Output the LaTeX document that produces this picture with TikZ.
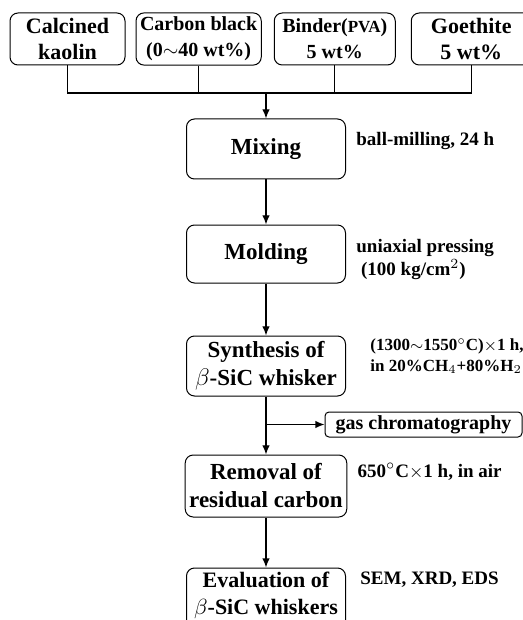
\documentclass[tikz,border=0pt]{standalone}
\usepackage{fontspec}
\setmainfont{Liberation Serif}
\usepackage{tikz}
\usetikzlibrary{arrows.meta,positioning}

\begin{document}
\begin{tikzpicture}[
  x=0.5pt, y=-0.5pt,
  node distance=22pt,
  stepbox/.style={draw, rounded corners=4pt, align=center, minimum width=79.5pt, minimum height=30pt, inner sep=2pt, line width=0.5pt, font=\fontsize{11.5}{14}\selectfont\bfseries},
  inbox/.style={stepbox, minimum height=26pt, font=\fontsize{11}{13}\selectfont\bfseries},
  note/.style={align=left, inner sep=0pt, font=\fontsize{9.5}{11.5}\selectfont\bfseries},
  arrow/.style={-{Latex[length=1.6mm, width=1.3mm]}, line width=0.6pt}
]
\useasboundingbox (0,0) rectangle (523,620);
\clip (0,0) rectangle (523,620);

% raw materials
\node[inbox, minimum width=57.5pt] (kaolin) at (67.5,39) {Calcined\\kaolin};
\node[inbox, minimum width=62.5pt, right=5pt of kaolin, font=\fontsize{10}{13}\selectfont\bfseries] (carbon) {Carbon black\\(0$\sim$40 wt\%)};
\node[inbox, minimum width=60.5pt, right=6pt of carbon, font=\fontsize{10}{13}\selectfont\bfseries] (binder) {Binder({\fontsize{8.5}{10}\selectfont PVA})\\5 wt\%};
\node[inbox, minimum width=60pt, right=7.5pt of binder] (goethite) {Goethite\\5 wt\%};

% process steps
\node[stepbox] (mixing) at (266,149) {Mixing};
\node[stepbox, below=22.5pt of mixing, minimum height=29pt] (molding) {Molding};
\node[stepbox, below=26pt of molding] (synthesis) {Synthesis of\\$\beta$-SiC whisker};
\node[stepbox, below=29pt of synthesis, minimum height=31pt] (removal) {Removal of\\residual carbon};
\node[stepbox, below=25pt of removal, font=\fontsize{11}{13.5}\selectfont\bfseries] (evaluation) {Evaluation of\\$\beta$-SiC whiskers\\\mbox{}\\\mbox{}};
\node[draw, rounded corners=2pt, line width=0.5pt, minimum width=98.5pt, minimum height=12.5pt, inner sep=1pt, font=\fontsize{10}{12}\selectfont\bfseries] (gc) at (423.5,424.5) {gas chromatography};

% conditions
\node[note, anchor=west, right=5pt of mixing, yshift=4pt] (millnote) {ball-milling, 24 h};
\node[note, anchor=west, right=5pt of molding, yshift=-3pt] (pressnote) {uniaxial pressing\\\ (100 kg/cm$^2$)};
\node[note, anchor=west, right=12pt of synthesis, yshift=5pt, font=\fontsize{8.5}{10.5}\selectfont\bfseries] (synthnote) {(1300$\sim$1550${}^\circ$C)$\times$1 h,\\in 20\%CH$_4$+80\%H$_2$};
\node[note, anchor=west, right=5pt of removal, yshift=7pt] (burnnote) {650${}^\circ$C$\times$1 h, in air};
\node[note, anchor=north west, right=7pt of evaluation.north east, yshift=-6pt] (evalnote) {SEM, XRD, EDS};

% connectors
\coordinate (bus) at (266,93);
\draw[line width=0.6pt] (kaolin.south) |- (bus) -| (goethite.south);
\draw[line width=0.6pt] (carbon.south) -- (carbon.south |- bus);
\draw[line width=0.6pt] (binder.south) -- (binder.south |- bus);
\draw[arrow] (bus) -- (mixing);
\draw[arrow] (mixing) -- (molding);
\draw[arrow] (molding) -- (synthesis);
\draw[arrow] (synthesis) -- (removal);
\coordinate (tap) at (synthesis.south |- gc.west);
\draw[arrow] (tap) -- (gc.west);
\draw[arrow] (removal) -- (evaluation);
\end{tikzpicture}
\end{document}
